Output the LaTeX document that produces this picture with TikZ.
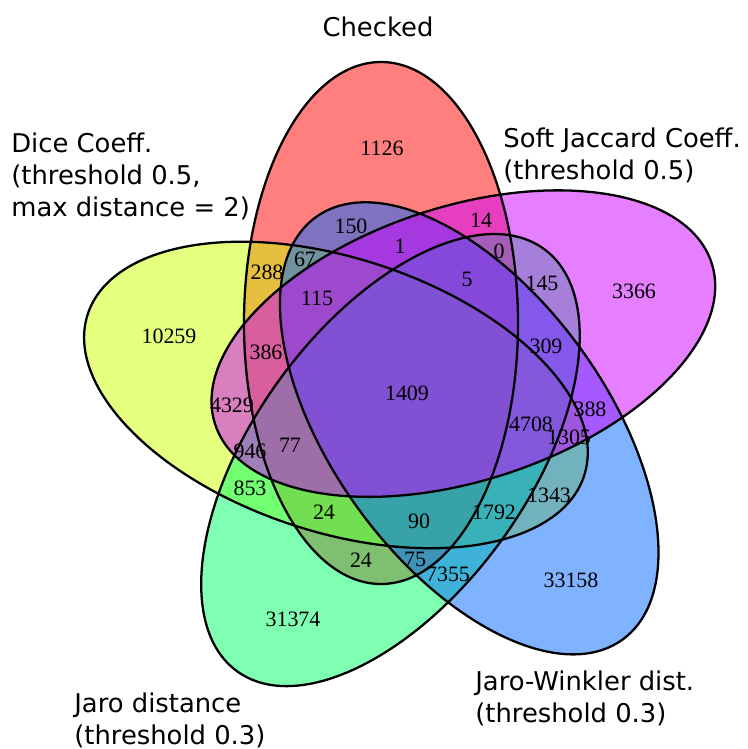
\documentclass[tikz,border=0pt]{standalone}
\usepackage{fontspec}
\setmainfont{Liberation Serif}
\newfontfamily\etiqfont{DejaVu Sans}

\definecolor{vrojo}{RGB}{255,0,0}
\definecolor{vamarillo}{RGB}{204,255,0}
\definecolor{vverde}{RGB}{0,255,102}
\definecolor{vazul}{RGB}{0,102,255}
\definecolor{vmagenta}{RGB}{204,0,255}

\begin{document}
\begin{tikzpicture}[scale=1,
    num/.style={inner sep=0pt, font=\fontsize{12.5}{14}\selectfont},
    etiq/.style={inner sep=0pt, align=left, font=\etiqfont\fontsize{14.7}{18}\selectfont}]

    \useasboundingbox (-8.16, -7.18) rectangle (6.80, 7.80);

    % Elipses (relleno)
    \foreach \ang/\col in {0/vrojo, 72/vamarillo, 144/vverde, 216/vazul, 288/vmagenta}
      \fill[rotate=\ang, fill=\col, fill opacity=0.5]
        (-0.54, 1.34) ellipse [x radius=2.74, y radius=5.22];

    % Bordes
    \foreach \ang in {0, 72, 144, 216, 288}
      \draw[rotate=\ang, line width=1.3pt]
        (-0.54, 1.34) ellipse [x radius=2.74, y radius=5.22];

    % Nombres de los conjuntos
    \node[etiq, anchor=north] (checked) at (-0.60, 7.46) {Checked};
    \node[etiq, anchor=north west] (dice) at (-7.94, 5.14)
      {Dice Coeff.\\(threshold 0.5,\\max distance = 2)};
    \node[etiq, anchor=north west] (jaccard) at (1.90, 5.24)
      {Soft Jaccard Coeff.\\(threshold 0.5)};
    \node[etiq, anchor=north west] (winkler) at (1.34, -5.62)
      {Jaro-Winkler dist.\\(threshold 0.3)};
    \node[etiq, anchor=north west] (jaro) at (-6.68, -6.06)
      {Jaro distance\\(threshold 0.3)};

    % Cardinales de cada region
    \node[num] (n1126) at (-0.52, 4.84) {1126};
    \node[num] (n3366) at (4.52, 1.98) {3366};
    \node[num] (n10259) at (-4.78, 1.08) {10259};
    \node[num] (n33158) at (3.26, -3.80) {33158};
    \node[num] (n31374) at (-2.30, -4.58) {31374};
    \node[num] (n150) at (-1.14, 3.28) {150};
    \node[num] (n14) at (1.46, 3.40) {14};
    \node[num] (n1) at (-0.16, 2.88) {1};
    \node[num] (n0) at (1.82, 2.78) {0};
    \node[num] (n67) at (-2.06, 2.62) {67};
    \node[num] (n288) at (-2.82, 2.36) {288};
    \node[num] (n5) at (1.18, 2.22) {5};
    \node[num] (n145) at (2.68, 2.14) {145};
    \node[num] (n115) at (-1.82, 1.84) {115};
    \node[num] (n386) at (-2.84, 0.76) {386};
    \node[num] (n309) at (2.76, 0.88) {309};
    \node[num] (n1409) at (-0.02, -0.06) {1409};
    \node[num] (n4329) at (-3.52, -0.30) {4329};
    \node[num] (n4708) at (2.46, -0.68) {4708};
    \node[num] (n388) at (3.64, -0.38) {388};
    \node[num] (n1305) at (3.22, -0.94) {1305};
    \node[num] (n946) at (-3.16, -1.22) {946};
    \node[num] (n77) at (-2.36, -1.10) {77};
    \node[num] (n853) at (-3.16, -1.96) {853};
    \node[num] (n1343) at (2.82, -2.10) {1343};
    \node[num] (n24a) at (-1.68, -2.44) {24};
    \node[num] (n90) at (0.22, -2.62) {90};
    \node[num] (n1792) at (1.72, -2.44) {1792};
    \node[num] (n24b) at (-0.94, -3.40) {24};
    \node[num] (n75) at (0.14, -3.38) {75};
    \node[num] (n7355) at (0.80, -3.68) {7355};

\end{tikzpicture}
\end{document}
